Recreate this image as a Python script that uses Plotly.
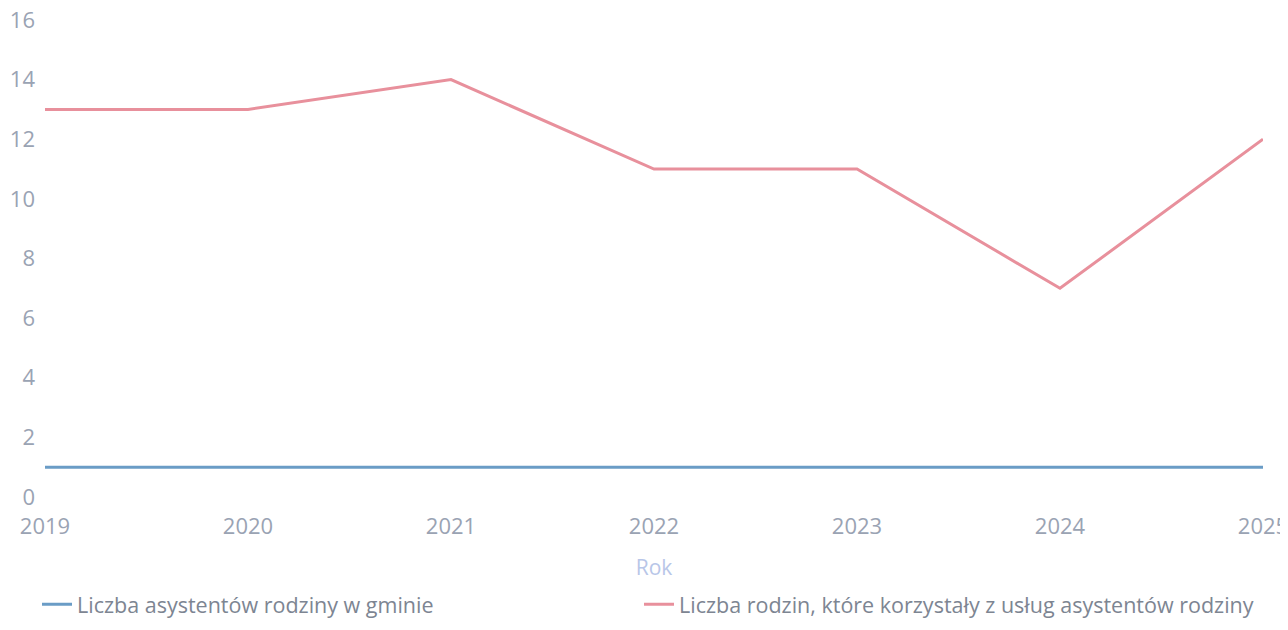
import plotly.graph_objects as go

years = [2019, 2020, 2021, 2022, 2023, 2024, 2025]
asystenci = [1, 1, 1, 1, 1, 1, 1]
rodziny = [13, 13, 14, 11, 11, 7, 12]
series_names = ["Liczba asystentów rodziny w gminie",
                "Liczba rodzin, które korzystały z usług asystentów rodziny"]
y_ticks = [0, 2, 4, 6, 8, 10, 12, 14, 16]

fig = go.Figure()
fig.add_trace(go.Scatter(x=years, y=asystenci, mode="lines", name=series_names[0],
                         line=dict(color="#6a9cc6", width=3), legend="legend"))
fig.add_trace(go.Scatter(x=years, y=rodziny, mode="lines", name=series_names[1],
                         line=dict(color="#e8909c", width=3), legend="legend2"))

leg_common = dict(orientation="h", yref="container", y=1 - 604 / 630, yanchor="middle",
                  xref="container", xanchor="left", bgcolor="rgba(0,0,0,0)",
                  font=dict(family="Open Sans", size=21.5, color="#7d8592"))

fig.update_layout(
    width=1280, height=622,
    margin=dict(l=37, r=25, t=12, b=133, autoexpand=False),
    paper_bgcolor="white", plot_bgcolor="white",
    font=dict(family="Open Sans", size=22, color="#9aa3b3"),
    showlegend=True,
    legend=dict(x=29 / 1280, **leg_common),
    legend2=dict(x=631 / 1280, **leg_common),
    xaxis=dict(range=[2019, 2025], tickvals=years, ticktext=[str(y) for y in years],
               showgrid=False, zeroline=False, showline=False, ticks="",
               ticklabelstandoff=14, automargin=False, ticklabeloverflow="allow",
               title=dict(text="Rok", font=dict(size=21, color="#b8c6e8"), standoff=21)),
    yaxis=dict(range=[0, 16], tickvals=y_ticks, showgrid=False, zeroline=False,
               showline=False, ticks="", ticklabelstandoff=9, automargin=False,
               ticklabeloverflow="allow"),
)

fig.write_html("out.html")
